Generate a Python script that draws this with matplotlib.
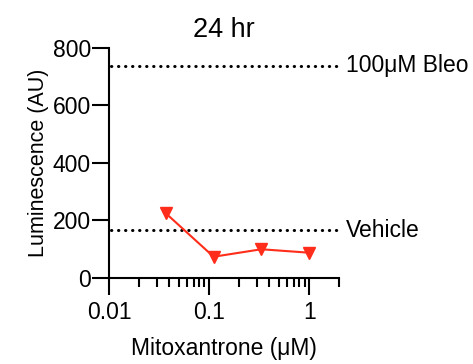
import matplotlib
matplotlib.use('Agg')
import matplotlib.pyplot as plt
from matplotlib.ticker import LogLocator, NullFormatter
import matplotlib.transforms as mtransforms

plt.rcParams['font.family'] = ['Liberation Sans', 'DejaVu Sans']

# Mitoxantrone dose response, 24 hr
conc_uM = [0.037, 0.111, 0.333, 1.0]
lum_au = [224, 73, 99, 87]

# reference levels
ref_labels = ['100μM Bleo', 'Vehicle']
ref_values = [737, 165]

red = '#FF2D1A'

fig = plt.figure(figsize=(4.73, 3.64), dpi=100)
ax = fig.add_axes([0.2304, 0.237, 0.4869, 0.632])

ax.plot(conc_uM, lum_au, color=red, lw=1.5, marker='v', ms=9,
        markeredgecolor=red, markerfacecolor=red, zorder=3)

trans = mtransforms.blended_transform_factory(ax.transAxes, ax.transData)
for lbl, val in zip(ref_labels, ref_values):
    ax.axhline(val, xmin=0.01, color='black', lw=2.2, linestyle=(0, (0.1, 2.2)),
               dash_capstyle='round', zorder=2)
    ax.text(1.03, val, lbl, transform=trans, ha='left', va='center', fontsize=16.5)

ax.set_xscale('log')
ax.set_xlim(0.01, 2)
ax.set_ylim(0, 800)
ax.set_yticks([0, 200, 400, 600, 800])
ax.set_xticks([0.01, 0.1, 1])
ax.set_xticklabels(['0.01', '0.1', '1'])
ax.xaxis.set_minor_locator(LogLocator(base=10, subs=range(2, 10)))
ax.xaxis.set_minor_formatter(NullFormatter())

for side in ['top', 'right']:
    ax.spines[side].set_visible(False)
for side in ['left', 'bottom']:
    ax.spines[side].set_linewidth(1.5)

ax.tick_params(axis='both', which='major', length=12, width=1.5, labelsize=16.5, pad=1)
ax.tick_params(axis='x', which='major', pad=5)
ax.tick_params(axis='x', which='minor', length=6.5, width=1.5)

ax.set_xlabel('Mitoxantrone (μM)', fontsize=16.5, labelpad=9)
ax.set_ylabel('Luminescence (AU)', fontsize=15.5, labelpad=3)
ax.set_title('24 hr', fontsize=19.5, pad=8)

fig.savefig('out.png', dpi=100)
